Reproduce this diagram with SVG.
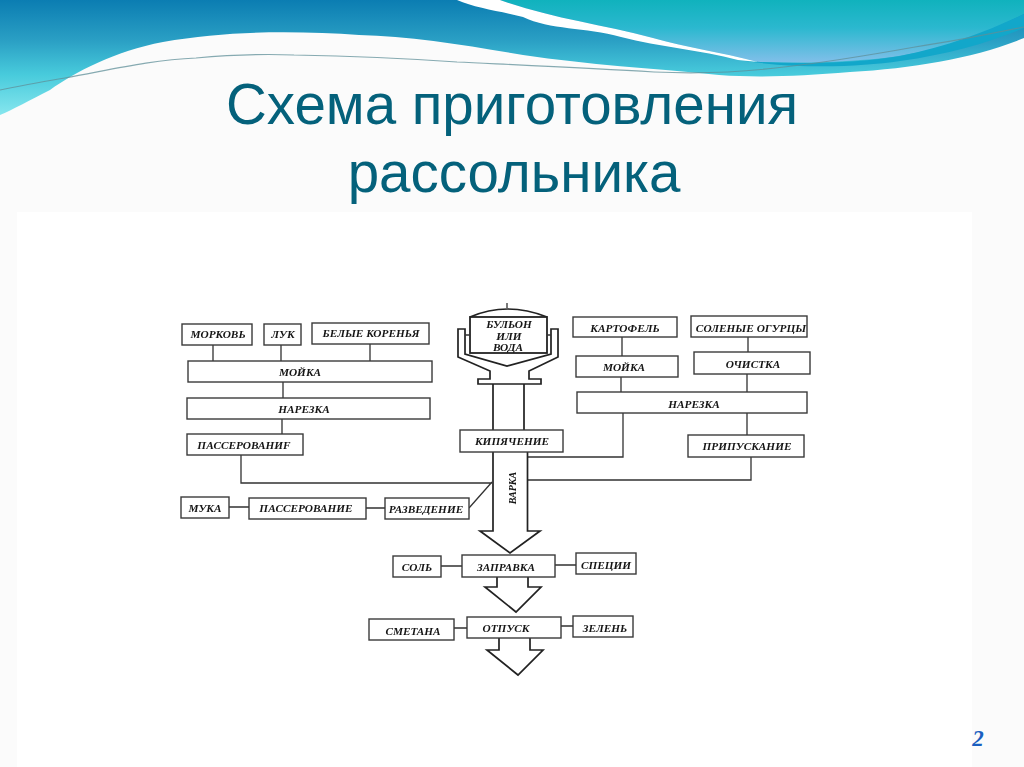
<svg xmlns="http://www.w3.org/2000/svg" width="1024" height="767" viewBox="0 0 1024 767">
<defs>
<linearGradient id="gBand" x1="0" y1="0" x2="0" y2="115" gradientUnits="userSpaceOnUse"><stop offset="0" stop-color="#0b7db2"/><stop offset="0.35" stop-color="#2a9fc4"/><stop offset="0.65" stop-color="#48cbdc"/><stop offset="1" stop-color="#86e6ee"/></linearGradient>
<linearGradient id="gTeal" x1="0" y1="0" x2="0" y2="62" gradientUnits="userSpaceOnUse"><stop offset="0" stop-color="#10b2bd"/><stop offset="0.45" stop-color="#2bb8cf"/><stop offset="1" stop-color="#80bfe9"/></linearGradient>
<filter id="soft" x="-2%" y="-2%" width="104%" height="104%"><feGaussianBlur stdDeviation="0.4"/></filter>
</defs>
<style>
.b{fill:#fff;stroke:#3a3a3a;stroke-width:1.4}
.l{fill:none;stroke:#333;stroke-width:1.3}
.a{fill:#fff;stroke:#222;stroke-width:1.7;stroke-linejoin:miter}
.t{font-family:"Liberation Serif",serif;font-weight:bold;font-style:italic;font-size:11.300px;fill:#151515;text-anchor:middle}
.h{font-family:"Liberation Sans",sans-serif;font-size:56.500px;fill:#04617b;text-anchor:middle}
</style>
<rect width="1024" height="767" fill="#fbfbfb"/>
<g id="waves">
<path d="M0 0H1024V38C975 58 915 68 850 72C800 76 760 78 719 75C650 68 590 65 523 55C470 46 410 36 359 35C300 31 230 30 163 42C115 51 75 72 50 90C30 100 12 110 0 115Z" fill="url(#gBand)"/>
<path d="M500 0H1024V14C980 36 930 56 860 60C820 63 790 63 758 62C720 52 685 47 653 38C600 24 550 18 500 0Z" fill="url(#gTeal)"/>
<path d="M745 61C800 65 860 63 900 56C950 46 990 30 1024 14V28C990 42 950 54 900 61C860 67 800 69 745 61Z" fill="#12a7ca"/>
<path d="M457 0H500C550 18 600 24 653 38C685 47 720 52 758 62L738 60C700 50 660 47 621 37C585 27 550 30 523 17C500 11 475 8 457 0Z" fill="#fff"/>
<path d="M0 90C20 86 40 82 65 78C110 70 150 60 196 58C240 54 270 54 294 55C350 56 400 58 457 62C520 65 590 68 654 72C700 74 745 72 784 67C830 62 870 55 915 47C950 42 990 34 1024 27" fill="none" stroke="#5f8f98" stroke-width="1.200" opacity="0.75"/>
</g>
<rect x="17" y="212" width="955" height="555" fill="#fff"/>
<g id="title">
<text class="h" x="512" y="124">Схема приготовления</text>
<text class="h" x="514" y="192">рассольника</text>
</g>
<g filter="url(#soft)">
<g id="connectors">
<path class="l" d="M213 345V361M281 345V361M370 344V361M283 382V398M282 419V434M241 455V483H492M229 507H249M366 508H385M469 508L492 482M622 337V356M748 337V352M621 377V392M747 374V392M623 413V457H527M747 413V435M751 457V480H527M441 566H462M555 565H576M454 628H467M561 626H573"/>
<path class="a" d="M493 384V430M524 384V430"/>
<path class="a" d="M493 452V531H480L510 553L540 531H527.500V452"/>
<path class="a" d="M497 577V587H485L516 612L541 587H528V577"/>
<path class="a" d="M499 638V650H487L518 675L543 650H530V638"/>
</g>
<g id="n-morkov"><rect class="b" x="182" y="324" width="70" height="21"/><text class="t" x="218" y="338">МОРКОВЬ</text></g>
<g id="n-luk"><rect class="b" x="264" y="324" width="37" height="21"/><text class="t" x="283" y="338">ЛУК</text></g>
<g id="n-korenya"><rect class="b" x="312" y="323" width="117" height="21"/><text class="t" x="371" y="337">БЕЛЫЕ КОРЕНЬЯ</text></g>
<g id="n-moika1"><rect class="b" x="188" y="361" width="244" height="21"/><text class="t" x="300" y="376">МОЙКА</text></g>
<g id="n-narezka1"><rect class="b" x="187" y="398" width="243" height="21"/><text class="t" x="304" y="413">НАРЕЗКА</text></g>
<g id="n-passer1"><rect class="b" x="187" y="434" width="116" height="21"/><text class="t" x="244" y="449">ПАССЕРОВАНИF</text></g>
<g id="n-muka"><rect class="b" x="181" y="497" width="48" height="21"/><text class="t" x="205" y="512">МУКА</text></g>
<g id="n-passer2"><rect class="b" x="249" y="498" width="117" height="21"/><text class="t" x="306" y="512">ПАССЕРОВАНИЕ</text></g>
<g id="n-razved"><rect class="b" x="385" y="498" width="84" height="21"/><text class="t" x="426" y="513">РАЗВЕДЕНИЕ</text></g>
<g id="n-pot">
<path d="M470 317Q507 301 547 317" class="a"/>
<path d="M507 303V308" class="l"/>
<path class="a" d="M458 329H465V354L507 366L551 354V329H558V357L529 371V379H541V384H478V379H490V371L458 357Z"/>
<rect x="470" y="317" width="77" height="36" fill="#fff" stroke="#222" stroke-width="1.800"/>
<path class="l" d="M465 335H470M547 335H551"/>
<text class="t" x="509" y="328">БУЛЬОН</text>
<text class="t" x="509" y="340">ИЛИ</text>
<text class="t" x="508" y="351">ВОДА</text>
</g>
<g id="n-kip"><rect class="b" x="460" y="430" width="103" height="22"/><text class="t" x="512" y="445">КИПЯЧЕНИЕ</text></g>
<g id="n-varka"><text class="t" style="font-size:10px" transform="translate(516 488) rotate(-90)">ВАРКА</text></g>
<g id="n-kartofel"><rect class="b" x="573" y="317" width="104" height="20"/><text class="t" x="625" y="332">КАРТОФЕЛЬ</text></g>
<g id="n-ogurcy"><rect class="b" x="691" y="316" width="116" height="21"/><text class="t" x="751" y="332">СОЛЕНЫЕ ОГУРЦЫ</text></g>
<g id="n-moika2"><rect class="b" x="576" y="356" width="102" height="21"/><text class="t" x="624" y="371">МОЙКА</text></g>
<g id="n-ochistka"><rect class="b" x="694" y="352" width="116" height="22"/><text class="t" x="753" y="368">ОЧИСТКА</text></g>
<g id="n-narezka2"><rect class="b" x="577" y="392" width="230" height="21"/><text class="t" x="694" y="408">НАРЕЗКА</text></g>
<g id="n-pripusk"><rect class="b" x="688" y="435" width="116" height="22"/><text class="t" x="747" y="450">ПРИПУСКАНИЕ</text></g>
<g id="n-sol"><rect class="b" x="393" y="556" width="48" height="21"/><text class="t" x="417" y="571">СОЛЬ</text></g>
<g id="n-zapravka"><rect class="b" x="462" y="555" width="93" height="22"/><text class="t" x="506" y="571">ЗАПРАВКА</text></g>
<g id="n-specii"><rect class="b" x="576" y="553" width="60" height="21"/><text class="t" x="606" y="569">СПЕЦИИ</text></g>
<g id="n-smetana"><rect class="b" x="369" y="619" width="85" height="21"/><text class="t" x="413" y="635">СМЕТАНА</text></g>
<g id="n-otpusk"><rect class="b" x="467" y="617" width="94" height="21"/><text class="t" x="506" y="632">ОТПУСК</text></g>
<g id="n-zelen"><rect class="b" x="573" y="616" width="60" height="21"/><text class="t" x="605" y="632">ЗЕЛЕНЬ</text></g>
</g>
<text x="978" y="746" font-family="Liberation Serif, serif" font-weight="bold" font-style="italic" font-size="23" fill="#1a5fc0" text-anchor="middle">2</text>
</svg>
